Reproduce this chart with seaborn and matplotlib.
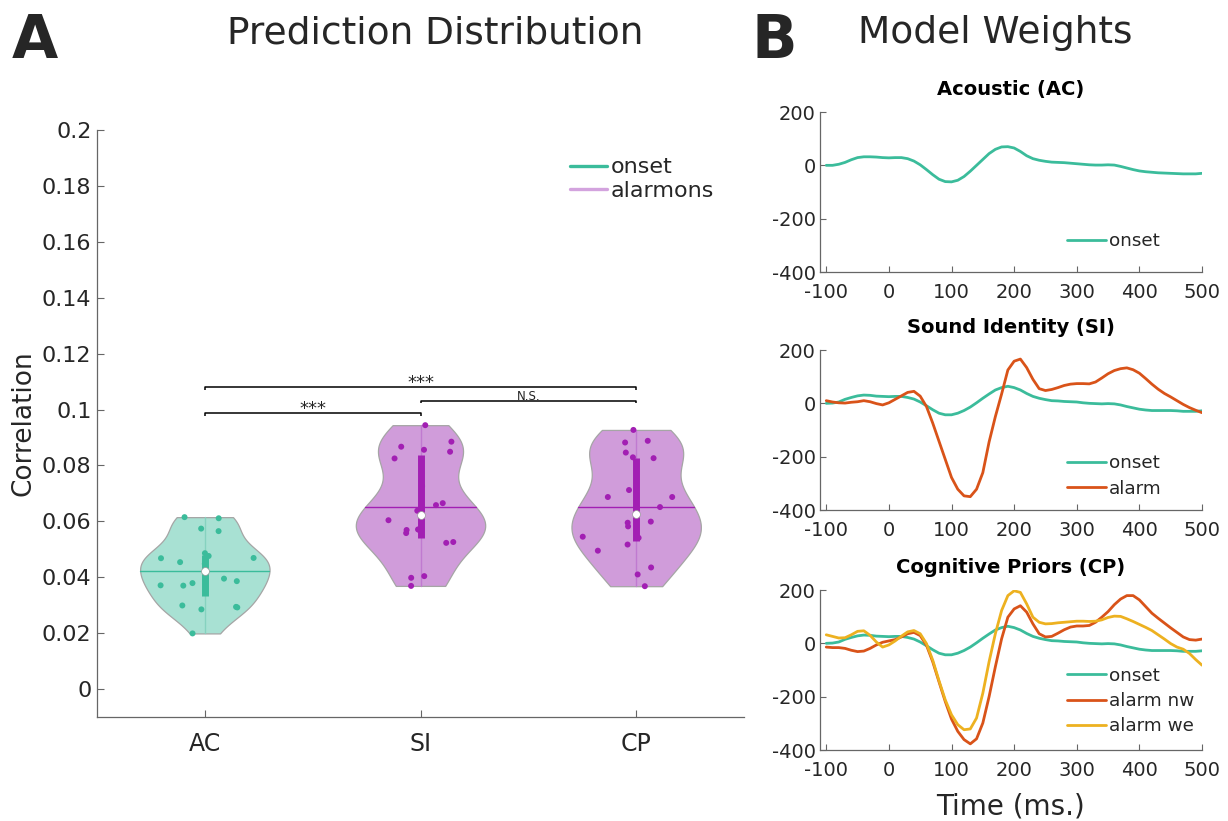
import numpy as np
import pandas as pd
import matplotlib
matplotlib.use("Agg")
import matplotlib.pyplot as plt
import seaborn as sns
from matplotlib.lines import Line2D
from matplotlib.ticker import FuncFormatter

# ---------------- data ----------------
models = ["AC", "SI", "CP"]
ac_corr = [0.0615, 0.0611, 0.0574, 0.0565, 0.0469, 0.0476, 0.0486, 0.0468, 0.0454, 0.0448,
           0.0395, 0.0386, 0.0379, 0.0371, 0.0370, 0.0294, 0.0299, 0.0285, 0.0292, 0.0199]
si_corr = [0.0944, 0.0885, 0.0867, 0.0856, 0.0849, 0.0825, 0.0726, 0.0665, 0.0658, 0.0638,
           0.0604, 0.0569, 0.0569, 0.0571, 0.0558, 0.0526, 0.0523, 0.0398, 0.0404, 0.0369]
cp_corr = [0.0927, 0.0882, 0.0888, 0.0846, 0.0829, 0.0826, 0.0712, 0.0687, 0.0687, 0.0651,
           0.0595, 0.0582, 0.0599, 0.0541, 0.0517, 0.0545, 0.0495, 0.0435, 0.0410, 0.0368]
legend_labels_A = ["onset", "alarmons"]

sig_pairs = [(0, 1), (0, 2), (1, 2)]
sig_text = ["***", "***", "N.S."]
sig_level = [0.0988, 0.1080, 0.1032]

time_ms = list(range(-100, 501, 10))
ac_onset = [0, 0, 4, 11, 21, 29, 32, 32, 31, 29,
            28, 29, 29, 25, 16, 2, -16, -35, -52, -61,
            -62, -56, -42, -22, 0, 22, 44, 60, 69, 70,
            65, 52, 36, 25, 19, 15, 12, 11, 10, 8,
            6, 4, 2, 1, 1, 2, 1, -4, -10, -16,
            -21, -24, -26, -28, -29, -30, -31, -32, -32, -32,
            -30]
si_onset = [0, 1, 5, 15, 22, 28, 31, 30, 27, 26,
            25, 26, 26, 22, 16, 5, -9, -24, -37, -43,
            -43, -37, -27, -14, 2, 19, 35, 50, 59, 64,
            59, 50, 37, 26, 19, 14, 10, 9, 7, 6,
            5, 2, 0, -1, -2, -1, -2, -6, -12, -17,
            -22, -25, -27, -27, -27, -27, -28, -30, -30, -30,
            -28]
si_alarm = [10, 5, 2, 1, 4, 6, 10, 6, -1, -6,
            2, 15, 28, 41, 45, 27, -12, -74, -142, -210,
            -278, -322, -347, -350, -322, -260, -145, -50, 35, 125,
            158, 166, 134, 90, 55, 48, 52, 59, 67, 72,
            74, 74, 73, 80, 95, 111, 123, 130, 133, 126,
            113, 93, 72, 53, 37, 24, 10, -4, -16, -26,
            -35]
cp_onset = list(si_onset)
cp_alarm_nw = [-14, -16, -16, -19, -26, -31, -29, -19, -6, 4,
               9, 14, 24, 36, 41, 29, -7, -69, -144, -218,
               -284, -330, -361, -377, -358, -299, -200, -88, 17, 98,
               129, 141, 117, 73, 36, 24, 26, 38, 51, 61,
               65, 65, 67, 79, 98, 119, 145, 166, 179, 179,
               163, 138, 113, 94, 76, 58, 41, 24, 14, 12,
               16]
cp_alarm_we = [32, 26, 20, 21, 32, 45, 47, 30, 5, -14,
               -6, 9, 27, 43, 48, 36, -1, -63, -140, -212,
               -268, -305, -324, -321, -280, -187, -69, 36, 123, 179,
               197, 191, 148, 98, 79, 73, 74, 77, 79, 81,
               83, 83, 82, 83, 88, 97, 102, 101, 92, 82,
               71, 60, 48, 32, 16, -1, -14, -22, -38, -61,
               -82]

panel_titles = ["Acoustic (AC)", "Sound Identity (SI)", "Cognitive Priors (CP)"]
panel_series = [
    [("onset", ac_onset)],
    [("onset", si_onset), ("alarm", si_alarm)],
    [("onset", cp_onset), ("alarm nw", cp_alarm_nw), ("alarm we", cp_alarm_we)],
]

# ---------------- style ----------------
TEAL = "#3bbc9b"
TEAL_FILL = "#a8e1d3"
TEAL_LIGHT = "#86d2bf"
PURPLE = "#a21fb3"
PURPLE_FILL = "#d09cda"
PURPLE_LIGHT = "#c07ad0"
PURPLE_LEG = "#d3a3de"
ORANGE = "#d95319"
YELLOW = "#edb120"
SPINE = "#666666"
TXT = "#262626"

sns.set_theme(style="ticks")
plt.rcParams["font.family"] = ["DejaVu Sans"]
plt.rcParams["axes.unicode_minus"] = False
plt.rcParams["text.color"] = TXT

W, H = 1228, 821
fig = plt.figure(figsize=(W / 100, H / 100), dpi=100)

# ---------------- panel A ----------------
axA = fig.add_axes([97 / W, 1 - 717 / H, 647 / W, 587 / H])
df = pd.DataFrame({
    "model": np.repeat(models, [len(ac_corr), len(si_corr), len(cp_corr)]),
    "corr": ac_corr + si_corr + cp_corr,
})
fill_pal = {"AC": TEAL_FILL, "SI": PURPLE_FILL, "CP": PURPLE_FILL}
pt_pal = {"AC": TEAL, "SI": PURPLE, "CP": PURPLE}
dark = [TEAL, PURPLE, PURPLE]
light = [TEAL_LIGHT, PURPLE_LIGHT, PURPLE_LIGHT]

sns.violinplot(data=df, x="model", y="corr", hue="model", order=models,
               hue_order=models, palette=fill_pal, cut=0, inner=None,
               width=0.6, density_norm="width", linewidth=0.9, bw_adjust=0.85,
               linecolor="#a5a5a5", saturation=1, legend=False, dodge=False,
               ax=axA)
violins = list(axA.collections)


def half_width(i, y):
    verts = violins[i].get_paths()[0].vertices
    right = verts[verts[:, 0] >= i + 1e-9]
    order = np.argsort(right[:, 1])
    return np.interp(y, right[order, 1], right[order, 0]) - i


vals = [ac_corr, si_corr, cp_corr]
for i, v in enumerate(vals):
    v = np.asarray(v)
    mu = v.mean()
    hw = half_width(i, mu)
    axA.plot([i - hw, i + hw], [mu, mu], color=dark[i], lw=1.0, zorder=2.5)
    axA.plot([i, i], [v.min(), v.max()], color=light[i], lw=1.0, zorder=2.5)

n_before = len(axA.collections)
np.random.seed(7)
JIT = 0.25
sns.stripplot(data=df, x="model", y="corr", hue="model", order=models,
              hue_order=models, palette=pt_pal, jitter=JIT, size=4.3,
              linewidth=0, legend=False, dodge=False, ax=axA, zorder=3)
# scale jitter by the violin's own width so points stay inside it
for coll in axA.collections[n_before:]:
    off = coll.get_offsets()
    if len(off) == 0:
        continue
    c = int(round(np.mean(off[:, 0])))
    new = off.copy()
    for k in range(len(off)):
        hw = half_width(c, off[k, 1])
        new[k, 0] = c + (off[k, 0] - c) / JIT * hw * 0.85
    coll.set_offsets(new)

for i, v in enumerate(vals):
    q1, med, q3 = np.percentile(v, [25, 50, 75], method="hazen")
    axA.plot([i, i], [q1, q3], color=dark[i], lw=5, solid_capstyle="butt", zorder=5)
    axA.scatter([i], [med], s=32, color="white", edgecolors="#9a9a9a",
                linewidths=0.5, zorder=6)

# significance brackets
for (a, b), txt, lev in zip(sig_pairs, sig_text, sig_level):
    axA.plot([a, a, b, b], [lev - 0.001, lev, lev, lev - 0.001], color="black",
             lw=1.1, zorder=6, solid_capstyle="butt")
    if txt == "N.S.":
        axA.text((a + b) / 2, lev + 0.0002, txt, ha="center", va="baseline",
                 fontsize=8.5, color=TXT)
    else:
        axA.text((a + b) / 2, lev - 0.0004, txt, ha="center", va="baseline",
                 fontsize=13, color=TXT)

axA.set_xlim(-0.5, 2.5)
axA.set_ylim(-0.01, 0.2)
axA.set_yticks(np.arange(0, 0.2001, 0.02))
axA.yaxis.set_major_formatter(FuncFormatter(lambda v, p: f"{v:g}"))
axA.set_xlabel("")
axA.set_ylabel("Correlation", fontsize=19, color=TXT)
axA.yaxis.set_label_coords(-0.094, 0.5)
axA.tick_params(axis="both", direction="in", length=5, width=0.8, colors=SPINE,
                labelcolor=TXT, labelsize=16)
axA.tick_params(axis="y", pad=4)
axA.tick_params(axis="x", pad=11, labelsize=17)
sns.despine(ax=axA)
for s in ["left", "bottom"]:
    axA.spines[s].set_color(SPINE)
    axA.spines[s].set_linewidth(0.9)

handles = [Line2D([], [], color=TEAL, lw=2.4), Line2D([], [], color=PURPLE_LEG, lw=2.4)]
axA.legend(handles, legend_labels_A, loc="center left", bbox_to_anchor=(0.731, 0.9165),
           frameon=False, fontsize=16, handlelength=1.67, handletextpad=0.18,
           labelspacing=0.15, borderpad=0, borderaxespad=0)

# ---------------- panel B ----------------
tops = [112, 350, 590]
leg_y = [0.194, 0.2125, 0.306]
colors_for = {"onset": TEAL, "alarm": ORANGE, "alarm nw": ORANGE, "alarm we": YELLOW}
axes_B = []
for r in range(3):
    ax = fig.add_axes([820 / W, 1 - (tops[r] + 160) / H, 382 / W, 160 / H])
    axes_B.append(ax)
    for lab, ys in panel_series[r]:
        sns.lineplot(x=time_ms, y=ys, color=colors_for[lab], lw=2.0, label=lab,
                     estimator=None, ax=ax)
    ax.set_xlim(-110, 500)
    ax.set_ylim(-400, 200)
    ax.set_xticks(range(-100, 501, 100))
    ax.set_yticks([-400, -200, 0, 200])
    ax.set_title(panel_titles[r], fontsize=14, fontweight="bold", color="black", pad=12)
    ax.tick_params(axis="both", direction="in", length=4, width=0.8, colors=SPINE,
                   labelcolor=TXT, labelsize=14)
    ax.tick_params(axis="y", pad=3)
    ax.tick_params(axis="x", pad=8)
    sns.despine(ax=ax)
    for s in ["left", "bottom"]:
        ax.spines[s].set_color(SPINE)
        ax.spines[s].set_linewidth(0.9)
    ax.legend(loc="center left", bbox_to_anchor=(0.647, leg_y[r]), frameon=False,
              fontsize=13.2, handlelength=2.1, handletextpad=0.17, labelspacing=0.4,
              borderpad=0, borderaxespad=0)

axes_B[2].set_xlabel("Time (ms.)", fontsize=20, color=TXT, labelpad=9)

# ---------------- headings ----------------
fig.text(35 / W, 1 - 41 / H, "A", fontsize=43, fontweight="bold", color=TXT,
         ha="center", va="center")
fig.text(774 / W, 1 - 41 / H, "B", fontsize=43, fontweight="bold", color=TXT,
         ha="center", va="center")
fig.text(435 / W, 1 - 33 / H, "Prediction Distribution", fontsize=27, color=TXT,
         ha="center", va="center")
fig.text(995 / W, 1 - 33 / H, "Model Weights", fontsize=27, color=TXT,
         ha="center", va="center")

fig.savefig("out.png", dpi=100)
